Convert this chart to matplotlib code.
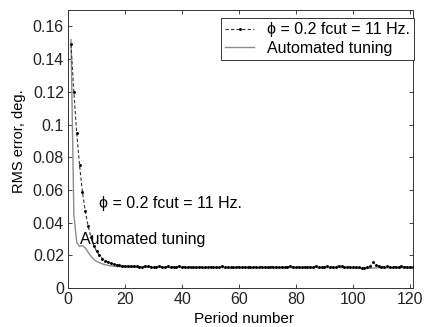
import matplotlib
matplotlib.use("Agg")
import matplotlib.pyplot as plt
from matplotlib.ticker import FuncFormatter

plt.rcParams['font.family'] = ['Liberation Sans', 'DejaVu Sans']

periods = list(range(1, 122))

rms_fixed = [
    0.149, 0.120, 0.095, 0.075, 0.059, 0.047, 0.038, 0.031, 0.026, 0.0225,
    0.020, 0.018, 0.0168, 0.0158, 0.0152, 0.0147, 0.0143, 0.0140, 0.0138, 0.0136,
    0.0135, 0.0134, 0.0133, 0.0135, 0.0132, 0.0131, 0.0134, 0.0133, 0.0131, 0.0130,
    0.0132, 0.0134, 0.0131, 0.0130, 0.0133, 0.0131, 0.0129, 0.0132, 0.0134, 0.0131,
    0.0130, 0.0128, 0.0131, 0.0129, 0.0127, 0.0130, 0.0128, 0.0126, 0.0129, 0.0131,
    0.0128, 0.0127, 0.0130, 0.0133, 0.0129, 0.0128, 0.0130, 0.0127, 0.0129, 0.0132,
    0.0130, 0.0128, 0.0131, 0.0129, 0.0127, 0.0130, 0.0128, 0.0131, 0.0129, 0.0127,
    0.0130, 0.0132, 0.0129, 0.0127, 0.0130, 0.0128, 0.0131, 0.0133, 0.0129, 0.0128,
    0.0130, 0.0127, 0.0129, 0.0131, 0.0128, 0.0130, 0.0133, 0.0129, 0.0127, 0.0130,
    0.0134, 0.0131, 0.0129, 0.0132, 0.0135, 0.0133, 0.0130, 0.0131, 0.0129, 0.0128,
    0.0127, 0.0126, 0.0125, 0.0124, 0.0126, 0.0133, 0.0158, 0.0141, 0.0133, 0.0131,
    0.0129, 0.0134, 0.0130, 0.0127, 0.0132, 0.0129, 0.0135, 0.0130, 0.0131, 0.0128,
    0.0130,
]

rms_auto = [
    0.152, 0.045, 0.028, 0.0255, 0.026, 0.0245, 0.022, 0.0195, 0.0175, 0.0163,
    0.0155, 0.0148, 0.0143, 0.0139, 0.0136, 0.0134, 0.0132, 0.0131, 0.0130, 0.0129,
    0.0128, 0.0128, 0.0127, 0.0128, 0.0127, 0.0126, 0.0127, 0.0128, 0.0126, 0.0126,
    0.0127, 0.0128, 0.0126, 0.0125, 0.0127, 0.0126, 0.0125, 0.0126, 0.0127, 0.0126,
    0.0125, 0.0124, 0.0125, 0.0124, 0.0123, 0.0125, 0.0124, 0.0122, 0.0124, 0.0125,
    0.0124, 0.0123, 0.0124, 0.0126, 0.0124, 0.0123, 0.0124, 0.0123, 0.0124, 0.0125,
    0.0124, 0.0123, 0.0125, 0.0124, 0.0123, 0.0124, 0.0123, 0.0125, 0.0124, 0.0122,
    0.0124, 0.0125, 0.0124, 0.0123, 0.0124, 0.0123, 0.0125, 0.0126, 0.0124, 0.0123,
    0.0124, 0.0122, 0.0123, 0.0125, 0.0123, 0.0124, 0.0126, 0.0124, 0.0122, 0.0124,
    0.0126, 0.0125, 0.0124, 0.0125, 0.0127, 0.0126, 0.0124, 0.0125, 0.0124, 0.0123,
    0.0122, 0.0121, 0.0120, 0.0119, 0.0120, 0.0121, 0.0122, 0.0124, 0.0125, 0.0124,
    0.0123, 0.0125, 0.0124, 0.0122, 0.0124, 0.0123, 0.0125, 0.0124, 0.0124, 0.0123,
    0.0124,
]

label_fixed = "ϕ = 0.2 fcut = 11 Hz."
label_auto = "Automated tuning"

x_ticks = [0, 20, 40, 60, 80, 100, 120]
y_ticks = [0, 0.02, 0.04, 0.06, 0.08, 0.1, 0.12, 0.14, 0.16]

FS = 11.5

fig = plt.figure(figsize=(4.26, 3.27), dpi=100)
ax = fig.add_axes([0.160, 0.119, 0.809, 0.850])

h_auto, = ax.plot(periods, rms_auto, color='#8c8c8c', lw=1.0,
                  label=label_auto, zorder=2)
h_fixed, = ax.plot(periods, rms_fixed, color='#333333', lw=0.8, ls='--',
                   marker='.', markersize=2.2, markerfacecolor='k',
                   markeredgecolor='k', dashes=(3, 2), label=label_fixed,
                   zorder=3)

ax.set_xlim(0, 121)
ax.set_ylim(0, 0.17)
ax.set_xticks(x_ticks)
ax.set_yticks(y_ticks)
ax.yaxis.set_major_formatter(FuncFormatter(lambda v, p: '%g' % round(v, 4)))
ax.tick_params(direction='in', top=True, right=True, length=3, width=0.6,
               labelsize=FS, pad=3, colors='#222222')
for s in ax.spines.values():
    s.set_linewidth(0.7)
    s.set_color('#333333')

ax.set_xlabel("Period number", fontsize=FS - 0.5, labelpad=1)
ax.set_ylabel("RMS error, deg.", fontsize=FS - 1, labelpad=2)
ax.yaxis.set_label_coords(-0.122, 0.53)
ax.xaxis.set_label_coords(0.51, -0.085)

ax.text(11, 0.052, label_fixed, fontsize=FS, va='center', ha='left')
ax.text(4, 0.030, label_auto, fontsize=FS, va='center', ha='left')

leg = ax.legend([h_fixed, h_auto], [label_fixed, label_auto],
                loc='upper right', bbox_to_anchor=(1.004, 0.972),
                fontsize=FS, frameon=True, fancybox=False,
                handlelength=1.8, handletextpad=0.8, borderpad=0.28,
                labelspacing=0.2, borderaxespad=0.0, edgecolor='#333333',
                framealpha=1)
leg.get_frame().set_linewidth(0.7)

fig.savefig("out.png", dpi=100)
